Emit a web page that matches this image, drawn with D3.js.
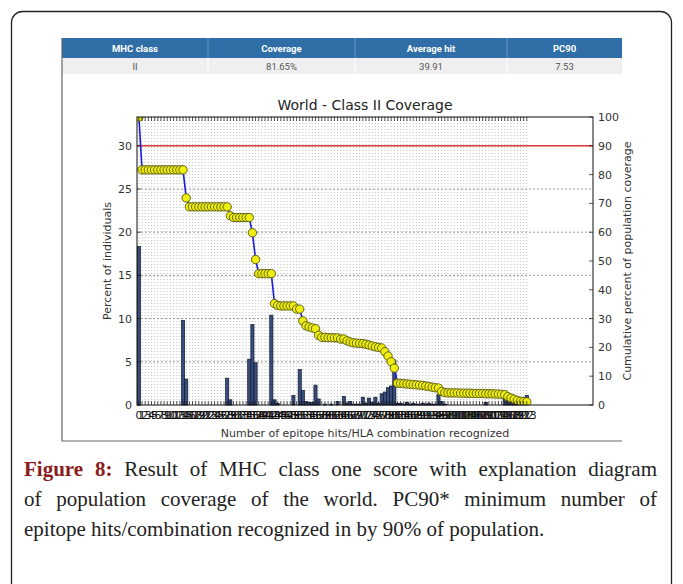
<!DOCTYPE html>
<html>
<head>
<meta charset="utf-8">
<script src="https://cdn.jsdelivr.net/npm/d3@7"></script>
<style>
  body { margin: 0; background: #fff; }
  #wrap { position: relative; width: 683px; height: 584px; overflow: hidden; }
  #chart { position: absolute; left: 0; top: 0; }
  .cap {
    position: absolute; left: 24px; width: 633px;
    font-family: "Liberation Serif", "DejaVu Serif", serif;
    font-size: 21px; color: #222; line-height: 30px;
    text-align: justify; text-align-last: justify;
  }
  .cap.last { text-align-last: left; }
  .cap b { color: #8a1c1c; }
</style>
</head>
<body>
<div id="wrap">
  <svg id="chart"></svg>
  <div class="cap" style="top:454px"><b>Figure 8:</b> Result of MHC class one score with explanation diagram</div>
  <div class="cap" style="top:484px">of population coverage of the world. PC90* minimum number of</div>
  <div class="cap last" style="top:514px">epitope hits/combination recognized in by 90% of population.</div>
</div>
<script>
// summary table
const tableHead = ["MHC class", "Coverage", "Average hit", "PC90"];
const tableRow = ["II", "81.65%", "39.91", "7.53"];

// x categories: number of epitope hits
const hits = [
  0, 1, 2, 3, 4, 5, 6, 7, 8, 9,
  10, 11, 12, 13, 14, 15, 16, 17, 18, 19,
  20, 21, 22, 23, 24, 25, 26, 27, 28, 29,
  30, 31, 32, 33, 34, 35, 36, 37, 38, 39,
  40, 41, 42, 43, 44, 45, 46, 47, 48, 49,
  50, 51, 52, 53, 54, 55, 56, 57, 58, 59,
  60, 61, 62, 63, 64, 65, 66, 67, 68, 69,
  70, 71, 72, 73, 74, 75, 76, 77, 78, 79,
  80, 81, 82, 83, 84, 85, 86, 87, 88, 89,
  90, 91, 92, 93, 94, 95, 96, 97, 98, 99,
  100, 101, 102, 103, 104, 105, 106, 107, 108, 109,
  110, 111, 112, 113, 114, 115, 116, 117, 118, 119,
  120, 121, 122, 123
];

// percent of individuals (bars, left axis)
const percent = [
  18.35, 0, 0, 0, 0, 0, 0, 0, 0, 0,
  0, 0, 0, 0, 9.8, 3.0, 0, 0, 0, 0,
  0, 0, 0, 0, 0, 0, 0, 0, 3.1, 0.6,
  0, 0, 0, 0, 0, 5.3, 9.3, 4.9, 0, 0,
  0, 0, 10.4, 0.6, 0.2, 0, 0, 0, 0, 1.1,
  0, 4.1, 1.7, 0.4, 0.3, 0.3, 2.3, 0.7, 0, 0.1,
  0, 0.1, 0, 0.4, 0, 1.0, 0.2, 0.4, 0.1, 0.1,
  0.1, 0.9, 0.2, 0.8, 0.3, 0.9, 0.2, 1.3, 1.5, 2.0,
  2.2, 5.2, 0.2, 0.2, 0.1, 0.3, 0.1, 0.2, 0.1, 0.1,
  0.2, 0.1, 0.2, 0.1, 0.1, 1.2, 0.4, 0.1, 0, 0,
  0, 0, 0, 0, 0, 0, 0, 0, 0, 0,
  0.3, 0, 0, 0, 0, 0, 0.7, 0.5, 0.4, 0.4,
  0.3, 0.1, 0.1, 1.1
];

// cumulative percent of population coverage (line, right axis)
const coverage = [
  100, 81.65, 81.65, 81.65, 81.65, 81.65, 81.65, 81.65, 81.65, 81.65,
  81.65, 81.65, 81.65, 81.65, 81.65, 71.9, 68.8, 68.8, 68.8, 68.8,
  68.8, 68.8, 68.8, 68.8, 68.8, 68.8, 68.8, 68.8, 68.8, 65.7,
  65.1, 65.1, 65.1, 65.1, 65.1, 65.1, 59.8, 50.5, 45.6, 45.6,
  45.6, 45.6, 45.6, 35.2, 34.6, 34.4, 34.4, 34.4, 34.4, 34.4,
  33.3, 33.3, 29.2, 27.5, 27.1, 26.8, 26.5, 24.2, 23.5, 23.5,
  23.4, 23.4, 23.3, 23.3, 22.9, 22.9, 22.3, 21.9, 21.6, 21.5,
  21.4, 21.3, 21.1, 20.8, 20.5, 20.2, 20.0, 19.8, 18.5, 17.0,
  15.0, 12.8, 7.6, 7.5, 7.4, 7.3, 7.2, 7.1, 7.0, 6.9,
  6.8, 6.6, 6.4, 6.2, 6.0, 5.9, 4.7, 4.3, 4.2, 4.2,
  4.2, 4.2, 4.1, 4.1, 4.1, 4.1, 4.0, 4.0, 4.0, 4.0,
  3.9, 3.9, 3.9, 3.8, 3.8, 3.7, 3.6, 2.9, 2.4, 2.0,
  1.6, 1.3, 1.2, 1.1
];

const leftTicks = [0, 5, 10, 15, 20, 25, 30];
const rightTicks = [0, 10, 20, 30, 40, 50, 60, 70, 80, 90, 100];
const target = 90; // PC90 line

const W = 683, H = 584;
const svg = d3.select("#chart").attr("width", W).attr("height", H);
const sans = "DejaVu Sans, sans-serif";

// page frame
svg.append("rect")
  .attr("x", 11.5).attr("y", 11.5).attr("width", 660).attr("height", 640)
  .attr("rx", 11).attr("fill", "none").attr("stroke", "#222").attr("stroke-width", 1.3);

// --- table ---
const colEdges = [62, 208, 355, 507, 622];
const tbl = svg.append("g");
tbl.append("rect").attr("x", 62).attr("y", 38).attr("width", 560).attr("height", 20).attr("fill", "#2f6ea6");
tbl.append("rect").attr("x", 62).attr("y", 58).attr("width", 560).attr("height", 16).attr("fill", "#efefef");
colEdges.slice(1, -1).forEach(e => {
  tbl.append("line").attr("x1", e).attr("x2", e).attr("y1", 38).attr("y2", 58).attr("stroke", "#6b98c4");
  tbl.append("line").attr("x1", e).attr("x2", e).attr("y1", 58).attr("y2", 74).attr("stroke", "#fff");
});
tableHead.forEach((t, i) => {
  tbl.append("text").attr("x", (colEdges[i] + colEdges[i + 1]) / 2).attr("y", 52)
    .attr("text-anchor", "middle").attr("font-family", "Roboto, Liberation Sans, sans-serif")
    .attr("font-weight", "bold").attr("font-size", 9.5).attr("fill", "#fff").text(t);
});
tableRow.forEach((t, i) => {
  tbl.append("text").attr("x", (colEdges[i] + colEdges[i + 1]) / 2).attr("y", 70)
    .attr("text-anchor", "middle").attr("font-family", "Roboto, Liberation Sans, sans-serif")
    .attr("font-size", 9.5).attr("fill", "#555").text(t);
});

// image border (left + bottom)
svg.append("path").attr("d", "M62,38V441H622").attr("fill", "none").attr("stroke", "#666").attr("stroke-width", 1.2);

// --- chart ---
const m = { left: 137, right: 593, top: 117, bottom: 405 };
const x = d3.scaleLinear().domain([-0.6, 144]).range([m.left, m.right]);
const yL = d3.scaleLinear().domain([0, 100 / 3]).range([m.bottom, m.top]);
const yR = d3.scaleLinear().domain([0, 100]).range([m.bottom, m.top]);
const step = x(1) - x(0);

svg.append("clipPath").attr("id", "plotclip").append("rect")
  .attr("x", m.left).attr("y", m.top).attr("width", m.right - m.left).attr("height", m.bottom - m.top);

// dotted vertical grid, one per category
svg.append("g").selectAll("line").data(hits).join("line")
  .attr("x1", d => x(d)).attr("x2", d => x(d))
  .attr("y1", m.top).attr("y2", m.bottom)
  .attr("stroke", "#a8a8a8").attr("stroke-width", 0.7).attr("stroke-dasharray", "1,2");

// horizontal grid at left-axis ticks
svg.append("g").selectAll("line").data(leftTicks.slice(1)).join("line")
  .attr("x1", m.left).attr("x2", m.right)
  .attr("y1", d => yL(d)).attr("y2", d => yL(d))
  .attr("stroke", "#808080").attr("stroke-width", 0.8).attr("stroke-dasharray", "2,2");

// PC90 reference line
svg.append("line").attr("x1", m.left).attr("x2", m.right)
  .attr("y1", yR(target)).attr("y2", yR(target))
  .attr("stroke", "#e03a3a").attr("stroke-width", 1.5);

// bars
const bw = step * 1.0;
svg.append("g").selectAll("rect").data(hits.filter((d, i) => percent[i] > 0)).join("rect")
  .attr("x", d => x(d) - bw / 2)
  .attr("y", d => yL(percent[d]))
  .attr("width", bw)
  .attr("height", d => yL(0) - yL(percent[d]))
  .attr("fill", "#3a4d7a").attr("stroke", "#0e1730").attr("stroke-width", 0.7);

// cumulative line + markers
const line = d3.line().x((d, i) => x(hits[i])).y(d => yR(d));
const cg = svg.append("g").attr("clip-path", "url(#plotclip)");
cg.append("path").datum(coverage).attr("d", line)
  .attr("fill", "none").attr("stroke", "#1a1ae0").attr("stroke-width", 1.6);
cg.selectAll("circle").data(coverage).join("circle")
  .attr("cx", (d, i) => x(hits[i])).attr("cy", d => yR(d)).attr("r", 4.2)
  .attr("fill", "#eeee10").attr("stroke", "#55550a").attr("stroke-width", 0.9);

// spines
svg.append("rect").attr("x", m.left).attr("y", m.top)
  .attr("width", m.right - m.left).attr("height", m.bottom - m.top)
  .attr("fill", "none").attr("stroke", "#111").attr("stroke-width", 1);

// inward ticks
const tk = svg.append("g").attr("stroke", "#111").attr("stroke-width", 0.7);
hits.forEach(h => {
  tk.append("line").attr("x1", x(h)).attr("x2", x(h)).attr("y1", m.bottom).attr("y2", m.bottom - 4);
  tk.append("line").attr("x1", x(h)).attr("x2", x(h)).attr("y1", m.top).attr("y2", m.top + 4);
});
leftTicks.forEach(t => tk.append("line").attr("x1", m.left).attr("x2", m.left + 4).attr("y1", yL(t)).attr("y2", yL(t)));
rightTicks.forEach(t => tk.append("line").attr("x1", m.right).attr("x2", m.right - 4).attr("y1", yR(t)).attr("y2", yR(t)));

// tick labels
svg.append("g").selectAll("text").data(leftTicks).join("text")
  .attr("x", m.left - 5).attr("y", d => yL(d) + 4)
  .attr("text-anchor", "end").attr("font-family", sans).attr("font-size", 11).attr("fill", "#333")
  .text(d => d);
svg.append("g").selectAll("text").data(rightTicks).join("text")
  .attr("x", m.right + 5).attr("y", d => yR(d) + 4)
  .attr("font-family", sans).attr("font-size", 11).attr("fill", "#333")
  .text(d => d);
svg.append("g").selectAll("text").data(hits).join("text")
  .attr("x", d => x(d)).attr("y", 419)
  .attr("text-anchor", "middle").attr("font-family", sans).attr("font-size", 10.5).attr("fill", "#111")
  .text(d => d);

// titles
svg.append("text").attr("x", (m.left + m.right) / 2).attr("y", 110)
  .attr("text-anchor", "middle").attr("font-family", sans).attr("font-size", 14).attr("fill", "#222")
  .text("World - Class II Coverage");
svg.append("text").attr("x", (m.left + m.right) / 2).attr("y", 437)
  .attr("text-anchor", "middle").attr("font-family", sans).attr("font-size", 11).attr("fill", "#333")
  .text("Number of epitope hits/HLA combination recognized");
svg.append("text").attr("transform", `translate(111,${(m.top + m.bottom) / 2}) rotate(-90)`)
  .attr("text-anchor", "middle").attr("font-family", sans).attr("font-size", 11).attr("fill", "#333")
  .text("Percent of individuals");
svg.append("text").attr("transform", `translate(631,${(m.top + m.bottom) / 2}) rotate(-90)`)
  .attr("text-anchor", "middle").attr("font-family", sans).attr("font-size", 11).attr("fill", "#333")
  .text("Cumulative percent of population coverage");
</script>
</body>
</html>
